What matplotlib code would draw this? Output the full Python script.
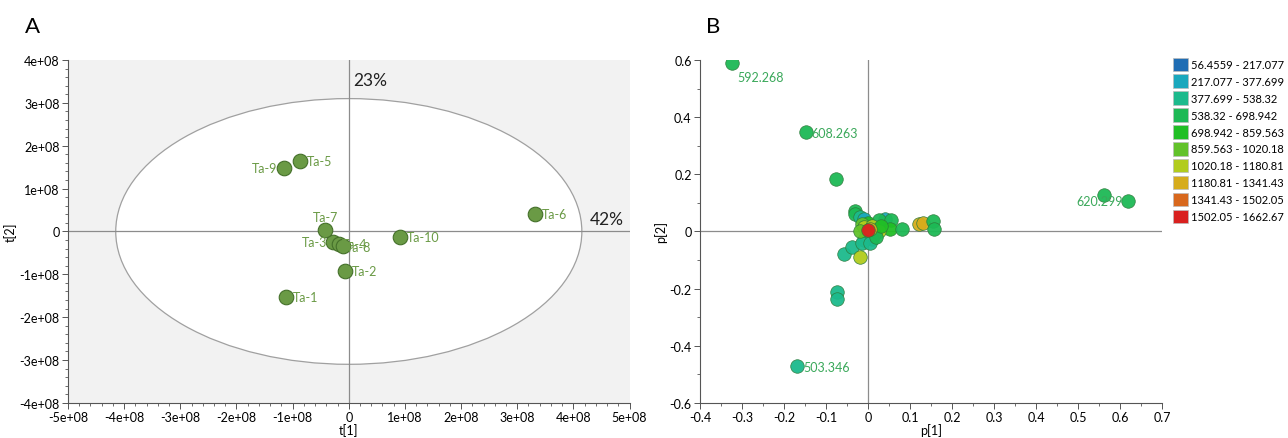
import numpy as np
import matplotlib
matplotlib.use("Agg")
import matplotlib.pyplot as plt
from matplotlib.patches import Ellipse, Patch
from matplotlib.ticker import MultipleLocator, AutoMinorLocator, FuncFormatter

plt.rcParams['font.family'] = ['Lato', 'DejaVu Sans']

# --- Panel A : scores ---
noms_a = ["Ta-1", "Ta-2", "Ta-3", "Ta-4", "Ta-5", "Ta-6", "Ta-7", "Ta-8", "Ta-9", "Ta-10"]
t1 = [-1.12e8, -0.07e8, -0.29e8, -0.17e8, -0.87e8, 3.32e8, -0.42e8, -0.11e8, -1.16e8, 0.91e8]
t2 = [-1.53e8, -0.92e8, -0.25e8, -0.30e8, 1.64e8, 0.40e8, 0.04e8, -0.34e8, 1.48e8, -0.14e8]

# --- Panel B : loadings ---
classes = ["56.4559 - 217.077", "217.077 - 377.699", "377.699 - 538.32", "538.32 - 698.942",
           "698.942 - 859.563", "859.563 - 1020.18", "1020.18 - 1180.81", "1180.81 - 1341.43",
           "1341.43 - 1502.05", "1502.05 - 1662.67"]
couleurs = ["#1f6db4", "#1aa8bd", "#1cba8c", "#1db955", "#21bf25", "#62c22a",
            "#b2cc1d", "#d6ac1c", "#d8681d", "#d9201f"]

p1 = [-0.325, -0.148, -0.077, 0.563, 0.620, -0.168, -0.073, -0.073, -0.057, -0.037,
      -0.018, -0.030, -0.032, -0.020, -0.010, 0.000, 0.040, 0.025, 0.055, 0.053,
      0.082, 0.122, 0.132, 0.155, 0.157, -0.015, -0.010, 0.010, 0.020, 0.025,
      0.015, -0.005, 0.010, -0.010, -0.015, 0.005, 0.020, 0.030, -0.020, 0.005, 0.000]
p2 = [0.590, 0.348, 0.183, 0.128, 0.105, -0.470, -0.213, -0.235, -0.080, -0.055,
      -0.088, 0.072, 0.060, 0.050, 0.045, 0.030, 0.045, 0.040, 0.040, 0.010,
      0.010, 0.025, 0.028, 0.035, 0.010, 0.025, 0.015, 0.020, 0.005, 0.000,
      -0.010, -0.015, -0.025, -0.030, -0.040, -0.040, -0.020, 0.020, 0.000, 0.010, 0.005]
classe = [3, 3, 3, 3, 3, 2, 2, 2, 2, 2,
          6, 3, 3, 2, 1, 4, 1, 3, 3, 4,
          3, 7, 7, 3, 3, 5, 6, 6, 7, 6,
          5, 4, 3, 2, 2, 2, 3, 4, 5, 7, 9]
etiquettes_b = {0: "592.268", 1: "608.263", 4: "620.299", 5: "503.346"}

fig = plt.figure(figsize=(12.88, 4.39), dpi=100)
ax1 = fig.add_axes([0.0528, 0.080, 0.436, 0.781])
ax2 = fig.add_axes([0.5435, 0.080, 0.3587, 0.781])

gris = "#8c8c8c"
vert_a = "#6a9a45"

# ==========================================
# A
# ==========================================
ax1.set_facecolor("#f2f2f2")
ax1.add_patch(Ellipse((0, 0), 8.3e8, 6.2e8, facecolor="white", edgecolor="#a0a0a0", lw=0.9, zorder=1))
ax1.axhline(0, color=gris, lw=0.9, zorder=2)
ax1.axvline(0, color=gris, lw=0.9, zorder=2)
ax1.scatter(t1, t2, s=110, color=vert_a, edgecolor="#44702a", lw=0.8, zorder=3)
decal = {"Ta-9": (-0.12e8, 0, "right", "center"), "Ta-7": (0, 0.16e8, "center", "bottom"),
         "Ta-3": (-0.1e8, 0, "right", "center"), "Ta-4": (0.04e8, 0, "left", "center"),
         "Ta-8": (0.05e8, -0.03e8, "left", "center")}
for n, x, y in zip(noms_a, t1, t2):
    dx, dy, ha, va = decal.get(n, (0.12e8, 0, "left", "center"))
    ax1.text(x + dx, y + dy, n, color=vert_a, fontsize=9, ha=ha, va=va, zorder=4)
ax1.text(0.08e8, 3.42e8, "23%", fontsize=12.5, color="#222222")
ax1.text(4.3e8, 0.18e8, "42%", fontsize=12.5, color="#222222")

ax1.set_xlim(-5e8, 5e8)
ax1.set_ylim(-4e8, 4e8)
fmt_e = FuncFormatter(lambda v, pos: "0" if abs(v) < 1 else f"{v:.0e}")
ax1.xaxis.set_major_locator(MultipleLocator(1e8))
ax1.yaxis.set_major_locator(MultipleLocator(1e8))
ax1.xaxis.set_major_formatter(fmt_e)
ax1.yaxis.set_major_formatter(fmt_e)
ax1.xaxis.set_minor_locator(AutoMinorLocator(5))
ax1.yaxis.set_minor_locator(AutoMinorLocator(5))
ax1.set_xlabel("t[1]", fontsize=9, labelpad=0)
ax1.set_ylabel("t[2]", fontsize=9, labelpad=2)

# ==========================================
# B
# ==========================================
ax2.axhline(0, color=gris, lw=0.9, zorder=1)
ax2.axvline(0, color=gris, lw=0.9, zorder=1)
for x, y, c in zip(p1, p2, classe):
    ax2.scatter(x, y, s=95, color=couleurs[c], edgecolor="#2d7a3a", lw=0.5, alpha=0.95, zorder=3)
for i, txt in etiquettes_b.items():
    if i == 4:
        ax2.text(p1[i] - 0.014, p2[i], txt, color="#3aa85a", fontsize=9, ha="right", va="center", zorder=4)
    elif i == 0:
        ax2.text(p1[i] + 0.015, p2[i] - 0.03, txt, color="#3aa85a", fontsize=9, ha="left", va="top", zorder=4)
    else:
        ax2.text(p1[i] + 0.014, p2[i] - 0.005, txt, color="#3aa85a", fontsize=9, ha="left", va="center", zorder=4)

ax2.set_xlim(-0.4, 0.7)
ax2.set_ylim(-0.6, 0.6)
ax2.xaxis.set_major_locator(MultipleLocator(0.1))
ax2.yaxis.set_major_locator(MultipleLocator(0.2))
ax2.xaxis.set_minor_locator(AutoMinorLocator(2))
ax2.yaxis.set_minor_locator(AutoMinorLocator(2))
fmt_g = FuncFormatter(lambda v, pos: "0" if abs(v) < 1e-9 else f"{v:g}")
ax2.xaxis.set_major_formatter(fmt_g)
ax2.yaxis.set_major_formatter(fmt_g)
ax2.set_xlabel("p[1]", fontsize=9, labelpad=0)
ax2.set_ylabel("p[2]", fontsize=9, labelpad=2)

poignees = [Patch(facecolor=couleurs[k], edgecolor="#bbbbbb", lw=0.5, label=classes[k]) for k in range(10)]
ax2.legend(handles=poignees, loc="upper left", bbox_to_anchor=(1.015, 1.02), frameon=False,
           fontsize=8, handlelength=1.3, handleheight=1.5, handletextpad=0.25, labelspacing=0.3,
           borderaxespad=0)

for ax in (ax1, ax2):
    for s in ("top", "right"):
        ax.spines[s].set_visible(False)
    for s in ("left", "bottom"):
        ax.spines[s].set_color("#555555")
        ax.spines[s].set_linewidth(0.8)
    ax.tick_params(which="major", labelsize=9, length=4, width=0.7, color="#555555", pad=2)
    ax.tick_params(which="minor", length=2, width=0.6, color="#555555")

fig.text(0.019, 0.925, "A", fontsize=16)
fig.text(0.548, 0.925, "B", fontsize=16)

fig.savefig("out.png", dpi=100)
